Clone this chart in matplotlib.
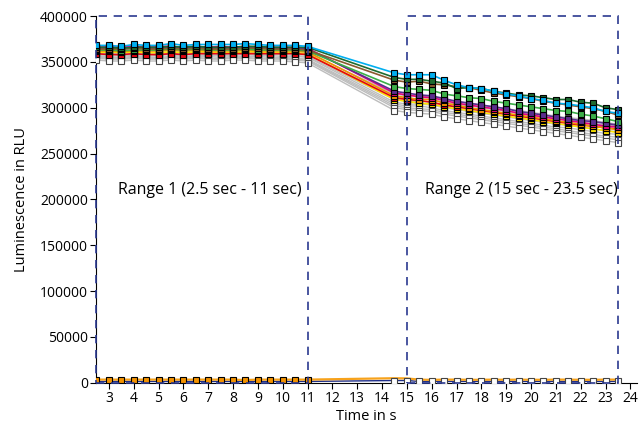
import matplotlib
matplotlib.use("Agg")
import matplotlib.pyplot as plt
from matplotlib.patches import Rectangle

# time points (s)
t1 = [2.5, 3, 3.5, 4, 4.5, 5, 5.5, 6, 6.5, 7, 7.5, 8, 8.5, 9, 9.5, 10, 10.5, 11]
t2 = [14.5, 15, 15.5, 16, 16.5, 17, 17.5, 18, 18.5, 19, 19.5, 20, 20.5, 21, 21.5, 22, 22.5, 23, 23.5]

# luminescence in thousands RLU, range 1 / range 2
blue_1 = [368, 368, 367, 369, 368, 368, 370, 368, 369, 369, 369, 369, 370, 369, 368, 368, 368, 367]
blue_2 = [338, 336, 336, 336, 330, 325, 322, 321, 318, 315, 313, 310, 308, 305, 304, 302, 300, 296, 294]
dgreen_1 = [366, 366, 365, 366, 366, 366, 367, 366, 367, 366, 366, 366, 367, 367, 366, 366, 366, 366]
dgreen_2 = [333, 331, 331, 329, 327, 321, 322, 321, 318, 316, 314, 313, 311, 309, 309, 306, 305, 300, 298]
brown_1 = [364, 364, 364, 365, 364, 364, 365, 364, 365, 364, 364, 364, 365, 365, 364, 364, 364, 363]
brown_2 = [330, 328, 329, 326, 325, 323, 322, 319, 316, 314, 312, 310, 307, 305, 303, 301, 299, 296, 292]
green_1 = [363, 363, 362, 363, 363, 363, 364, 363, 364, 363, 363, 363, 364, 363, 363, 363, 363, 362]
green_2 = [323, 321, 320, 319, 315, 313, 311, 310, 307, 305, 303, 301, 299, 297, 296, 293, 291, 288, 285]
purple_1 = [365, 365, 364, 365, 365, 365, 366, 365, 366, 365, 365, 365, 366, 365, 365, 365, 365, 364]
purple_2 = [318, 316, 314, 313, 310, 307, 305, 303, 301, 299, 296, 294, 292, 290, 288, 286, 285, 283, 281]
magenta_1 = [366, 367, 366, 367, 366, 367, 367, 366, 367, 366, 367, 366, 367, 366, 366, 366, 366, 365]
magenta_2 = [316, 314, 312, 311, 308, 305, 303, 301, 299, 297, 294, 292, 290, 288, 286, 284, 282, 280, 279]
orange_1 = [362, 362, 361, 362, 362, 362, 363, 362, 363, 362, 362, 362, 363, 362, 362, 362, 362, 361]
orange_2 = [313, 311, 309, 309, 305, 303, 300, 298, 296, 294, 292, 290, 288, 286, 284, 282, 280, 278, 276]
red_1 = [359, 358, 358, 359, 358, 358, 359, 358, 359, 359, 359, 359, 359, 359, 359, 359, 359, 358]
red_2 = [311, 309, 308, 306, 303, 301, 299, 297, 295, 293, 291, 289, 287, 285, 283, 281, 280, 278, 277]
yellow_1 = [360, 361, 360, 361, 360, 360, 361, 360, 361, 361, 360, 360, 361, 361, 360, 360, 360, 359]
yellow_2 = [309, 307, 305, 304, 301, 299, 297, 295, 293, 291, 289, 287, 285, 283, 281, 279, 277, 275, 273]

gray_1 = [
    [362, 361, 362, 363, 362, 362, 363, 362, 363, 363, 362, 363, 363, 362, 362, 362, 361, 360],
    [360, 359, 360, 361, 360, 360, 361, 360, 361, 360, 360, 361, 361, 360, 360, 360, 359, 358],
    [358, 358, 358, 359, 358, 358, 359, 358, 359, 358, 358, 359, 359, 358, 358, 358, 357, 356],
    [357, 356, 357, 357, 356, 357, 358, 356, 357, 357, 357, 357, 358, 357, 357, 356, 356, 355],
    [356, 355, 355, 356, 355, 355, 356, 355, 356, 356, 355, 356, 356, 356, 355, 355, 354, 353],
    [355, 354, 354, 355, 354, 354, 355, 354, 355, 354, 354, 355, 355, 354, 354, 354, 353, 352],
    [354, 353, 353, 354, 353, 353, 354, 353, 354, 353, 353, 354, 354, 353, 353, 353, 352, 351],
    [352, 351, 351, 352, 351, 351, 352, 351, 352, 351, 351, 352, 352, 351, 351, 351, 350, 349],
]
gray_2 = [
    [315, 313, 313, 312, 309, 307, 305, 303, 301, 299, 297, 295, 293, 291, 289, 288, 286, 284, 282],
    [312, 310, 310, 309, 306, 304, 302, 300, 298, 296, 294, 292, 290, 288, 287, 285, 283, 281, 280],
    [309, 307, 307, 306, 303, 301, 299, 297, 295, 293, 291, 289, 287, 285, 284, 282, 280, 278, 277],
    [306, 304, 304, 303, 300, 298, 296, 294, 292, 290, 288, 286, 284, 282, 281, 279, 277, 275, 274],
    [304, 302, 302, 300, 297, 295, 293, 291, 289, 287, 285, 283, 281, 279, 278, 276, 274, 272, 271],
    [302, 300, 299, 298, 295, 293, 291, 289, 287, 285, 283, 281, 279, 277, 275, 273, 271, 269, 268],
    [300, 298, 297, 296, 293, 291, 289, 287, 285, 283, 281, 279, 277, 275, 273, 271, 269, 267, 265],
    [297, 295, 294, 293, 290, 288, 286, 284, 282, 280, 278, 276, 274, 272, 270, 268, 266, 264, 262],
]

# near-zero controls
low_orange_1 = [3.5, 3.5, 3.5, 3.5, 3.5, 3.5, 3.5, 3.5, 3.5, 3.5, 3.5, 3.5, 3.0, 3.5, 3.5, 3.5, 3.5, 3.5]
low_orange_2 = [5.0, 4.8, 3.5, 3.2, 3.5, 3.5, 3.3, 3.3, 3.5, 3.3, 3.5, 3.3, 3.3, 3.5, 3.5, 3.3, 3.3, 3.5, 3.5]
low_navy_1 = [1.5, 1.5, 1.5, 1.5, 1.5, 1.5, 1.5, 1.5, 1.5, 1.5, 1.5, 1.5, 1.5, 1.5, 1.5, 1.5, 1.5, 1.5]
low_navy_2 = [2.5, 2.5, 1.5, 1.5, 1.5, 1.5, 1.5, 1.5, 1.5, 1.5, 1.5, 1.5, 1.5, 1.5, 1.5, 1.5, 1.5, 1.5, 1.5]

colored = [
    ("#00aeef", blue_1, blue_2),
    ("#1e6b30", dgreen_1, dgreen_2),
    ("#8b5a2e", brown_1, brown_2),
    ("#3cae48", green_1, green_2),
    ("#5b2d8e", purple_1, purple_2),
    ("#e6007e", magenta_1, magenta_2),
    ("#f39200", orange_1, orange_2),
    ("#e30613", red_1, red_2),
    ("#ffe600", yellow_1, yellow_2),
]

plt.rcParams['font.family'] = ['Open Sans', 'DejaVu Sans']

fig = plt.figure(figsize=(6.43, 4.23), dpi=100)
ax = fig.add_axes([0.150, 0.095, 0.840, 0.867])

t = t1 + t2
k = 1000

# lines
for v1, v2 in zip(gray_1, gray_2):
    ax.plot(t, [v * k for v in v1 + v2], color="#bdbdbd", lw=1.0, zorder=2)
for c, v1, v2 in colored[::-1]:
    ax.plot(t, [v * k for v in v1 + v2], color=c, lw=1.2, zorder=3)
ax.plot(t, [v * k for v in low_navy_1 + low_navy_2], color="#1f2f8a", lw=1.0, zorder=3)
ax.plot(t, [v * k for v in low_orange_1 + low_orange_2], color="#f7a21b", lw=1.6, zorder=3)

# markers
ms = 3.8
for v1, v2 in zip(gray_1, gray_2):
    ax.plot(t, [v * k for v in v1 + v2], ls="none", marker="s", ms=ms,
            mfc="white", mec="#444444", mew=0.8, zorder=4)
for c, v1, v2 in colored[::-1]:
    ax.plot(t, [v * k for v in v1 + v2], ls="none", marker="s", ms=ms,
            mfc=c, mec="black", mew=0.8, zorder=5)
ax.plot(t2, [v * k for v in low_navy_2], ls="none", marker="s", ms=ms,
        mfc="white", mec="#444444", mew=0.8, zorder=5)
ax.plot(t1, [v * k for v in low_orange_1], ls="none", marker="s", ms=ms,
        mfc="#f39200", mec="black", mew=0.8, zorder=5)

# range boxes
for x0, x1 in [(2.5, 11), (15, 23.5)]:
    ax.add_patch(Rectangle((x0, 0), x1 - x0, 400000, fill=False, ec="#2b3990",
                           lw=1.2, ls=(0, (5, 4)), clip_on=False, zorder=6))

ax.text(7.05, 210000, "Range 1 (2.5 sec - 11 sec)", ha="center", va="center", fontsize=11.5)
ax.text(19.6, 210000, "Range 2 (15 sec - 23.5 sec)", ha="center", va="center", fontsize=11.5)

ax.set_xlim(2.5, 24.25)
ax.set_ylim(0, 400000)
ax.set_xticks(range(3, 25))
ax.set_yticks(range(0, 400001, 50000))
ax.tick_params(labelsize=10, length=4, width=0.8, pad=2)
ax.spines['top'].set_visible(False)
ax.spines['right'].set_visible(False)
ax.set_xlabel("Time in s", fontsize=10.5, labelpad=2)
ax.set_ylabel("Luminescence in RLU", fontsize=10.5, labelpad=8)

fig.savefig("out.png", dpi=100)
